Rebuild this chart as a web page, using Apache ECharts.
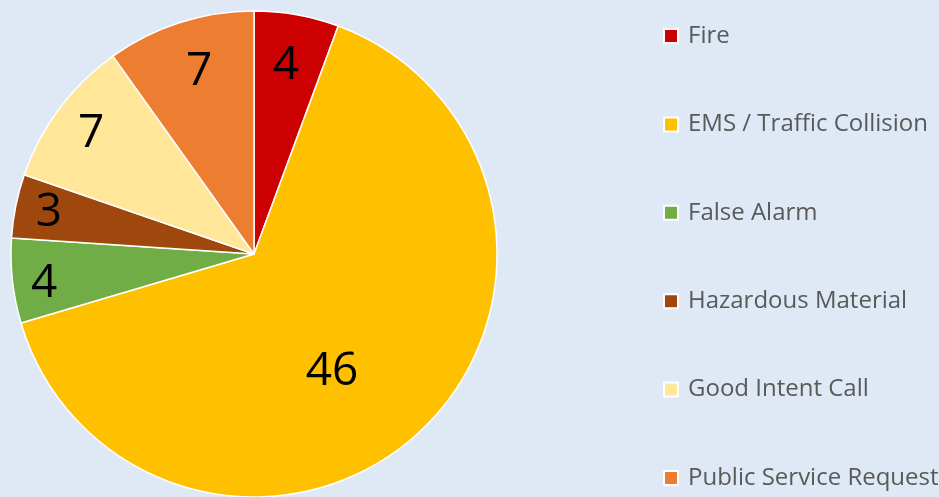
<!DOCTYPE html>
<html>
<head>
<meta charset="utf-8">
<script src="https://cdn.jsdelivr.net/npm/echarts@6/dist/echarts.min.js"></script>
<style>
html,body{margin:0;padding:0;background:#dee9f5;}
#chart{width:939px;height:497px;}
</style>
</head>
<body>
<div id="chart"></div>
<script>
const categories = ["Fire", "EMS / Traffic Collision", "False Alarm", "Hazardous Material", "Good Intent Call", "Public Service Request"];
const values = [4, 46, 4, 3, 7, 7];
const colors = ["#cc0000", "#ffc000", "#70ad47", "#9e480e", "#ffe699", "#ed7d31"];
const labelOffsets = [[10, -66], [-7, 27], [-86, 16], [-83, -16], [-63, -46], [-17, -64]];

const chart = echarts.init(document.getElementById('chart'));
chart.setOption({
  backgroundColor: '#dee9f5',
  animation: false,
  legend: {
    orient: 'vertical',
    left: 658,
    top: 19,
    itemWidth: 14,
    itemHeight: 14,
    itemGap: 64.4,
    icon: 'rect',
    textStyle: { fontFamily: 'Open Sans', fontSize: 24, color: '#595959', lineHeight: 24, padding: [0, 0, 0, 5] },
    data: categories
  },
  series: [{
    type: 'pie',
    center: [254, 254],
    radius: 243,
    startAngle: 90,
    clockwise: true,
    itemStyle: { borderColor: '#ffffff', borderWidth: 1.5 },
    label: {
      show: true,
      position: 'inside',
      formatter: '{c}',
      fontFamily: 'Open Sans',
      fontSize: 46,
      color: '#000000'
    },
    labelLine: { show: false },
    emphasis: { disabled: true },
    data: categories.map((n, i) => ({
      name: n,
      value: values[i],
      itemStyle: { color: colors[i] },
      label: { offset: labelOffsets[i] }
    }))
  }]
});
</script>
</body>
</html>
